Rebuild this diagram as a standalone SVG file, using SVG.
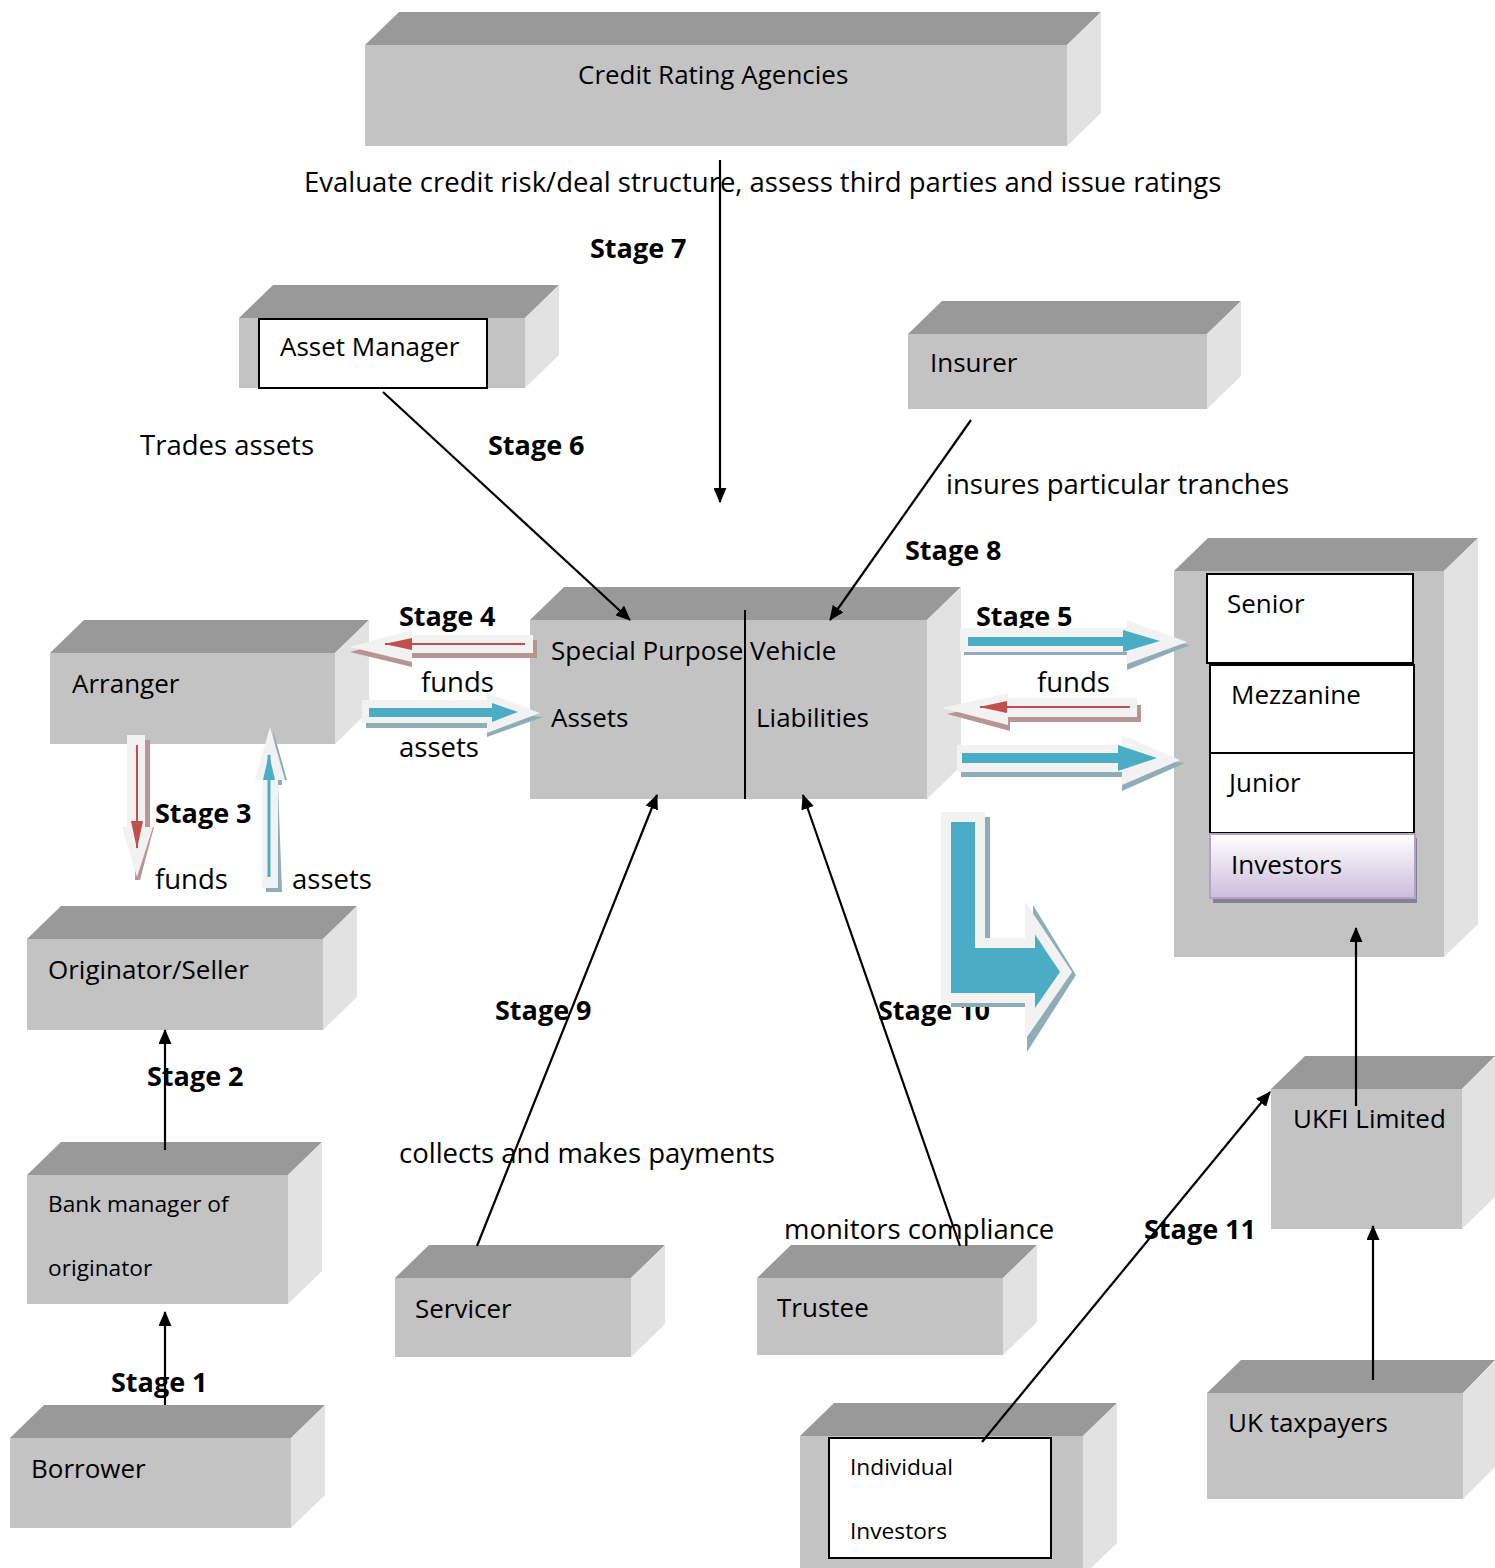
<svg xmlns="http://www.w3.org/2000/svg" width="1495" height="1568" viewBox="0 0 1495 1568">
<defs>
<style>
.fr{fill:#c3c3c3}
.tp{fill:#999999}
.sd{fill:#e2e2e2}
.t{font-family:"Open Sans","Noto Sans",sans-serif;font-size:26px;fill:#000}
.f{font-family:"Open Sans","Noto Sans",sans-serif;font-size:27.5px;fill:#000}
.s{font-family:"Open Sans","Noto Sans",sans-serif;font-size:22.7px;fill:#000}
.b{font-family:"Open Sans","Noto Sans",sans-serif;font-size:27px;font-weight:bold;fill:#000}
.ln{stroke:#000;stroke-width:2.2;fill:none}
.wb{fill:#fff;stroke:#000;stroke-width:2}
.lt{fill:#f2f2f2}
.tl{fill:#4bacc6}
.tsh{fill:#8fadb6}
.rsh{fill:#b89595}
</style>
<marker id="ah" markerWidth="15" markerHeight="13" refX="14" refY="6.5" orient="auto" markerUnits="userSpaceOnUse">
<path d="M0,0 L15,6.5 L0,13 Z" fill="#000"/>
</marker>
<marker id="rh" markerWidth="28" markerHeight="12" refX="27" refY="6" orient="auto" markerUnits="userSpaceOnUse">
<path d="M0,0 L28,6 L0,12 Z" fill="#c0504d"/>
</marker>
<marker id="th" markerWidth="26" markerHeight="12" refX="25" refY="6" orient="auto" markerUnits="userSpaceOnUse">
<path d="M0,0 L26,6 L0,12 Z" fill="#4bacc6"/>
</marker>
<linearGradient id="inv" x1="0" y1="0" x2="0" y2="1">
<stop offset="0" stop-color="#ffffff"/>
<stop offset="1" stop-color="#cbbddb"/>
</linearGradient>
</defs>
<rect width="1495" height="1568" fill="#fff"/>

<g id="credit-rating-agencies">
<rect class="fr" x="365" y="45" width="702" height="101"/>
<polygon class="tp" points="365,45 399,12 1101,12 1067,45"/>
<polygon class="sd" points="1067,45 1101,12 1101,113 1067,146"/>
<text class="t" x="578" y="84">Credit Rating Agencies</text>
</g>

<g id="asset-manager">
<rect class="fr" x="239" y="318" width="286" height="70"/>
<polygon class="tp" points="239,318 273,285 559,285 525,318"/>
<polygon class="sd" points="525,318 559,285 559,355 525,388"/>
<rect class="wb" x="259" y="319" width="228" height="69"/>
<text class="t" x="280" y="356">Asset Manager</text>
</g>

<g id="insurer">
<rect class="fr" x="908" y="334" width="299" height="75"/>
<polygon class="tp" points="908,334 942,301 1241,301 1207,334"/>
<polygon class="sd" points="1207,334 1241,301 1241,376 1207,409"/>
<text class="t" x="930" y="372">Insurer</text>
</g>

<g id="arranger">
<rect class="fr" x="50" y="653" width="285" height="91"/>
<polygon class="tp" points="50,653 84,620 369,620 335,653"/>
<polygon class="sd" points="335,653 369,620 369,711 335,744"/>
<text class="t" x="72" y="693">Arranger</text>
</g>

<g id="originator-seller">
<rect class="fr" x="27" y="939" width="296" height="91"/>
<polygon class="tp" points="27,939 61,906 357,906 323,939"/>
<polygon class="sd" points="323,939 357,906 357,997 323,1030"/>
<text class="t" x="48" y="979">Originator/Seller</text>
</g>

<g id="bank-manager">
<rect class="fr" x="27" y="1175" width="261" height="129"/>
<polygon class="tp" points="27,1175 61,1142 322,1142 288,1175"/>
<polygon class="sd" points="288,1175 322,1142 322,1271 288,1304"/>
<text class="s" x="48" y="1212">Bank manager of</text>
<text class="s" x="48" y="1276">originator</text>
</g>

<g id="borrower">
<rect class="fr" x="10" y="1438" width="281" height="90"/>
<polygon class="tp" points="10,1438 44,1405 325,1405 291,1438"/>
<polygon class="sd" points="291,1438 325,1405 325,1495 291,1528"/>
<text class="t" x="31" y="1478">Borrower</text>
</g>

<g id="spv">
<rect class="fr" x="530" y="620" width="397" height="179"/>
<polygon class="tp" points="530,620 564,587 961,587 927,620"/>
<polygon class="sd" points="927,620 961,587 961,766 927,799"/>
<text class="t" x="551" y="660">Special Purpose Vehicle</text>
<text class="t" x="551" y="727">Assets</text>
<text class="t" x="756" y="727">Liabilities</text>
<line x1="745" y1="610" x2="745" y2="799" stroke="#000" stroke-width="2"/>
</g>

<g id="investors">
<rect class="fr" x="1174" y="571" width="270" height="386"/>
<polygon class="tp" points="1174,571 1208,538 1478,538 1444,571"/>
<polygon class="sd" points="1444,571 1478,538 1478,924 1444,957"/>
<rect class="wb" x="1207" y="574" width="206" height="89"/>
<rect class="wb" x="1210" y="665" width="204" height="88"/>
<rect class="wb" x="1210" y="753" width="204" height="80"/>
<rect x="1213" y="838" width="204" height="65" fill="#8a7f98"/>
<rect x="1210" y="834" width="205" height="64" fill="url(#inv)" stroke="#b4a3c8" stroke-width="2"/>
<text class="t" x="1227" y="613">Senior</text>
<text class="t" x="1231" y="704">Mezzanine</text>
<text class="t" x="1229" y="792">Junior</text>
<text class="t" x="1231" y="874">Investors</text>
</g>

<g id="ukfi-limited">
<rect class="fr" x="1271" y="1089" width="191" height="140"/>
<polygon class="tp" points="1271,1089 1305,1056 1495,1056 1462,1089"/>
<polygon class="sd" points="1462,1089 1495,1057 1495,1197 1462,1229"/>
<text class="t" x="1293" y="1128">UKFI Limited</text>
</g>

<g id="servicer">
<rect class="fr" x="395" y="1278" width="236" height="79"/>
<polygon class="tp" points="395,1278 429,1245 665,1245 631,1278"/>
<polygon class="sd" points="631,1278 665,1245 665,1324 631,1357"/>
<text class="t" x="415" y="1318">Servicer</text>
</g>

<g id="trustee">
<rect class="fr" x="757" y="1278" width="246" height="77"/>
<polygon class="tp" points="757,1278 791,1245 1037,1245 1003,1278"/>
<polygon class="sd" points="1003,1278 1037,1245 1037,1322 1003,1355"/>
<text class="t" x="777" y="1317">Trustee</text>
</g>

<g id="individual-investors">
<rect class="fr" x="800" y="1436" width="283" height="140"/>
<polygon class="tp" points="800,1436 834,1403 1117,1403 1083,1436"/>
<polygon class="sd" points="1083,1436 1117,1403 1117,1543 1083,1576"/>
<rect class="wb" x="829" y="1438" width="222" height="120"/>
<text class="s" x="850" y="1475">Individual</text>
<text class="s" x="850" y="1539">Investors</text>
</g>

<g id="uk-taxpayers">
<rect class="fr" x="1207" y="1393" width="256" height="106"/>
<polygon class="tp" points="1207,1393 1241,1360 1495,1360 1463,1393"/>
<polygon class="sd" points="1463,1393 1495,1361 1495,1467 1463,1499"/>
<text class="t" x="1228" y="1432">UK taxpayers</text>
</g>

<g id="labels">
<text class="f" x="304" y="192">Evaluate credit risk/deal structure, assess third parties and issue ratings</text>
<text class="b" x="590" y="258">Stage 7</text>
<text class="f" x="140" y="455">Trades assets</text>
<text class="b" x="488" y="455">Stage 6</text>
<text class="f" x="946" y="494">insures particular tranches</text>
<text class="b" x="905" y="560">Stage 8</text>
<text class="b" x="399" y="626">Stage 4</text>
<text class="b" x="976" y="626">Stage 5</text>
<text class="f" x="421" y="692">funds</text>
<text class="f" x="1037" y="692">funds</text>
<text class="f" x="399" y="757">assets</text>
<text class="b" x="155" y="823">Stage 3</text>
<text class="f" x="155" y="889">funds</text>
<text class="f" x="292" y="889">assets</text>
<text class="b" x="495" y="1020">Stage 9</text>
<text class="b" x="878" y="1020">Stage 10</text>
<text class="b" x="147" y="1086">Stage 2</text>
<text class="f" x="399" y="1163">collects and makes payments</text>
<text class="f" x="784" y="1239">monitors compliance</text>
<text class="b" x="1144" y="1239">Stage 11</text>
<text class="b" x="111" y="1392">Stage 1</text>
</g>

<g id="connectors">
<line class="ln" x1="720" y1="160" x2="720" y2="502" marker-end="url(#ah)"/>
<line class="ln" x1="383" y1="392" x2="630" y2="620" marker-end="url(#ah)"/>
<line class="ln" x1="971" y1="420" x2="830" y2="620" marker-end="url(#ah)"/>
<line class="ln" x1="477" y1="1246" x2="657" y2="795" marker-end="url(#ah)"/>
<line class="ln" x1="960" y1="1246" x2="803" y2="795" marker-end="url(#ah)"/>
<line class="ln" x1="165" y1="1150" x2="165" y2="1030" marker-end="url(#ah)"/>
<line class="ln" x1="165" y1="1405" x2="165" y2="1312" marker-end="url(#ah)"/>
<line class="ln" x1="1356" y1="1106" x2="1356" y2="928" marker-end="url(#ah)"/>
<line class="ln" x1="1373" y1="1380" x2="1373" y2="1226" marker-end="url(#ah)"/>
<line class="ln" x1="982" y1="1442" x2="1270" y2="1092" marker-end="url(#ah)"/>

<!-- Stage 4 funds (left) -->
<polygon class="rsh" points="537,640 412,640 412,635 350,652 412,667 412,658 537,658"/>
<polygon class="lt" points="533,635 412,635 412,630 350,647 412,662 412,653 533,653"/>
<line x1="525" y1="644" x2="385" y2="644" stroke="#c0504d" stroke-width="2" marker-end="url(#rh)"/>
<!-- Stage 4 assets (right) -->
<polygon class="tsh" points="366,716 487,716 487,712 543,717 487,737 487,728 366,728"/>
<polygon class="lt" points="362,700 487,700 487,693 540,713 487,733 487,723 362,723"/>
<rect class="tl" x="369" y="708" width="126" height="9"/>
<polygon class="tl" points="492,703 518,712 492,722"/>

<!-- Stage 5 top -->
<polygon class="tsh" points="964,640 1127,640 1127,636 1190,645 1127,670 1127,655 964,655"/>
<polygon class="lt" points="960,628 1127,628 1127,620 1187,642 1127,664 1127,652 960,652"/>
<rect class="tl" x="968" y="637" width="159" height="9"/>
<polygon class="tl" points="1123,630 1160,641 1123,652"/>
<!-- Stage 5 funds -->
<polygon class="rsh" points="1141,705 1010,705 1010,700 947,714 1010,731 1010,722 1141,722"/>
<polygon class="lt" points="1137,698 1008,698 1008,693 942,708 1008,725 1008,717 1137,717"/>
<line x1="1130" y1="707" x2="980" y2="707" stroke="#c0504d" stroke-width="2" marker-end="url(#rh)"/>
<!-- Stage 5 bottom -->
<polygon class="tsh" points="961,760 1122,760 1122,757 1185,763 1122,791 1122,777 961,777"/>
<polygon class="lt" points="957,745 1122,745 1122,735 1180,760 1122,785 1122,772 957,772"/>
<rect class="tl" x="962" y="753" width="160" height="10"/>
<polygon class="tl" points="1118,745 1157,758 1118,771"/>

<!-- Stage 3 funds (down) -->
<polygon class="rsh" points="132,740 150,740 150,827 154,827 140,880 135,880 136,830"/>
<polygon class="lt" points="127,735 145,735 145,827 153,827 137,877 122,827 127,827"/>
<line x1="137" y1="745" x2="137" y2="848" stroke="#c0504d" stroke-width="2" marker-end="url(#rh)"/>
<!-- Stage 3 assets (up) -->
<polygon class="tsh" points="266,785 282,785 282,780 287,780 273,730 278,785 282,892 266,892"/>
<polygon class="lt" points="262,780 278,780 278,888 262,888 262,780 255,780 270,727 285,780 278,780"/>
<line x1="269" y1="877" x2="269" y2="755" stroke="#4bacc6" stroke-width="3" marker-end="url(#th)"/>

<!-- L arrow -->
<polygon class="tsh" points="951,817 990,817 990,945 1033,945 1033,905 1076,975 1027,1052 1027,1007 951,1007"/>
<polygon class="tl" stroke="#f2f2f2" stroke-width="10" stroke-linejoin="miter" points="946,817 980,817 980,943 1030,943 1030,918 1066,972 1030,1024 1030,998 946,998"/>
</g>
</svg>
